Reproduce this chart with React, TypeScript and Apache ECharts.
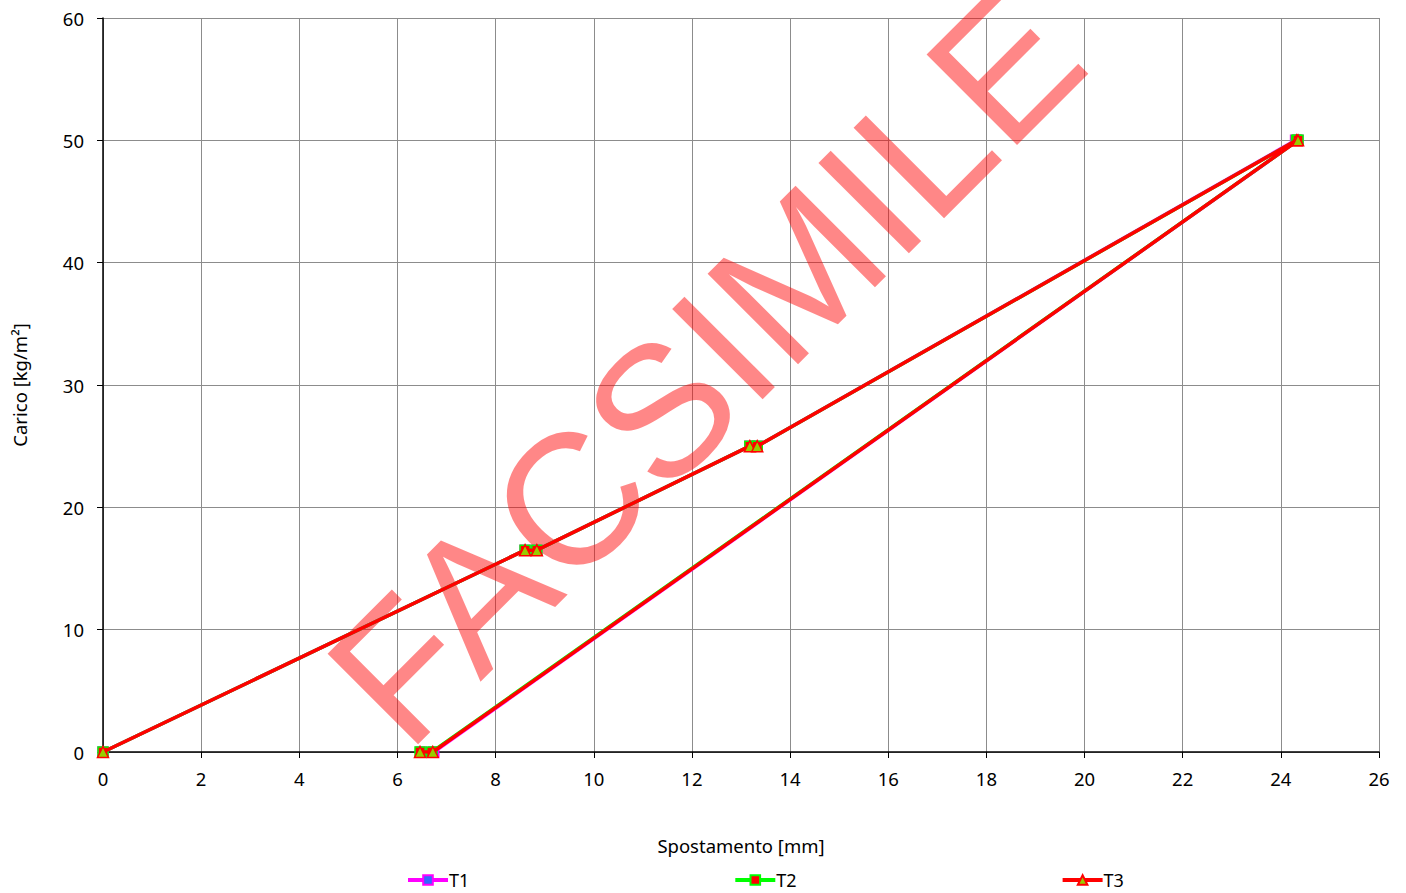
import React, { useEffect, useRef } from "react";
import * as echarts from "echarts";

const seriesNames = ["T1", "T2", "T3"];
const t1X = [0, 8.6, 8.84, 13.18, 13.33, 24.3, 24.35, 6.74, 6.48];
const t1Y = [0, 16.5, 16.5, 25, 25, 50, 50, 0, 0];
const t2X = [0, 8.6, 8.84, 13.18, 13.33, 24.32, 24.35, 6.7, 6.46];
const t2Y = [0, 16.5, 16.5, 25, 25, 50, 50, 0, 0];
const t3X = [0, 8.6, 8.84, 13.18, 13.33, 24.32, 24.35, 6.72, 6.46];
const t3Y = [0, 16.5, 16.5, 25, 25, 50, 50, 0, 0];
const xTicks = { min: 0, max: 26, interval: 2 };
const yTicks = { min: 0, max: 60, interval: 10 };
const xTitle = "Spostamento [mm]";
const yTitle = "Carico [kg/m²]";
const watermark = "FACSIMILE";

const FONT = "'Noto Sans', sans-serif";

function pairs(xs: number[], ys: number[]) {
  return xs.map((x, i) => [x, ys[i]]);
}

export default function App() {
  const ref = useRef<HTMLDivElement>(null);
  useEffect(() => {
    const chart = echarts.init(ref.current!, null, { renderer: "svg" });
    const styles = [
      { line: "#FF00FF", fill: "#3366FF", border: "#FF00FF", symbol: "rect" },
      { line: "#00FF00", fill: "#FF0000", border: "#00FF00", symbol: "rect" },
      { line: "#FF0000", fill: "#99CC00", border: "#FF0000", symbol: "triangle" },
    ];
    const data = [pairs(t1X, t1Y), pairs(t2X, t2Y), pairs(t3X, t3Y)];
    chart.setOption({
      animation: false,
      backgroundColor: "#ffffff",
      textStyle: { fontFamily: FONT },
      grid: { left: 103, right: 27, top: 18, bottom: 141, containLabel: false },
      graphic: [
        {
          type: "text",
          x: 705,
          y: 366,
          rotation: (45 * Math.PI) / 180,
          z: 1,
          silent: true,
          style: {
            text: watermark,
            font: "186px 'Liberation Sans', Arial, sans-serif",
            fill: "rgba(255,0,0,0.47)",
            align: "center",
            verticalAlign: "middle",
          },
        },
      ],
      xAxis: {
        type: "value",
        min: xTicks.min,
        max: xTicks.max,
        interval: xTicks.interval,
        name: xTitle,
        nameLocation: "middle",
        nameGap: 84,
        nameTextStyle: { fontSize: 18.5, color: "#000", fontFamily: FONT },
        axisLine: { onZero: false, lineStyle: { color: "#000", width: 1.5 } },
        axisTick: { show: true, length: 6, lineStyle: { color: "#000" } },
        axisLabel: { fontSize: 18.5, color: "#000", margin: 17, fontFamily: FONT },
        splitLine: { show: true, lineStyle: { color: "#8c8c8c", width: 1 } },
      },
      yAxis: {
        type: "value",
        min: yTicks.min,
        max: yTicks.max,
        interval: yTicks.interval,
        name: yTitle,
        nameLocation: "middle",
        nameGap: 74,
        nameTextStyle: { fontSize: 18.5, color: "#000", fontFamily: FONT },
        axisLine: { show: true, onZero: false, lineStyle: { color: "#000", width: 1.5 } },
        axisTick: { show: true, length: 6, lineStyle: { color: "#000" } },
        axisLabel: { fontSize: 18.5, color: "#000", margin: 19, fontFamily: FONT },
        splitLine: { show: true, lineStyle: { color: "#8c8c8c", width: 1 } },
      },
      legend: {
        left: 401,
        top: 866,
        itemGap: 264,
        itemWidth: 40,
        itemHeight: 12,
        lineStyle: { width: 4, color: "inherit" },
        textStyle: { fontSize: 18, color: "#000", fontFamily: FONT, padding: [0, 0, 0, -4] },
        data: seriesNames,
      },
      series: seriesNames.map((name, i) => ({
        name,
        type: "line",
        data: data[i],
        z: 3 + i,
        symbol: styles[i].symbol,
        symbolSize: styles[i].symbol === "triangle" ? 11 : 10,
        showSymbol: true,
        lineStyle: { color: styles[i].line, width: 3.5 },
        itemStyle: { color: styles[i].fill, borderColor: styles[i].border, borderWidth: 1.5 },
        emphasis: { disabled: true },
      })),
    });
    return () => chart.dispose();
  }, []);
  return (
    <div
      ref={ref}
      style={{ position: "fixed", left: 0, top: 0, width: 1406, height: 893 }}
    />
  );
}
